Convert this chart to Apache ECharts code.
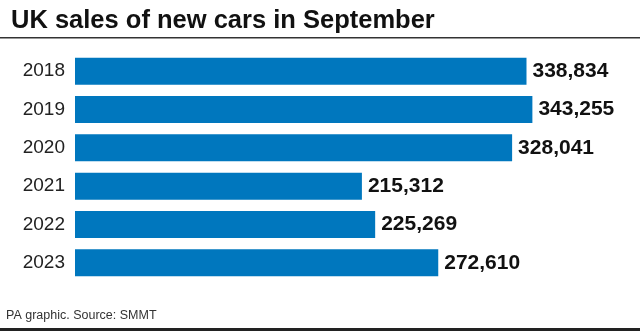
<!DOCTYPE html>
<html><head><meta charset="utf-8">
<script src="https://cdn.jsdelivr.net/npm/echarts@6/dist/echarts.min.js"></script>
<style>html,body{margin:0;padding:0;background:#fff}#c{width:640px;height:331px}</style>
</head><body><div id="c"></div>
<script>
const years = ['2018','2019','2020','2021','2022','2023'];
const sales = [338834, 343255, 328041, 215312, 225269, 272610];
const titleText = 'UK sales of new cars in September';
const sourceText = 'PA graphic. Source: SMMT';

const chart = echarts.init(document.getElementById('c'));
chart.setOption({
  animation: false,
  backgroundColor: '#fff',
  title: {
    text: titleText, left: 6, top: 3,
    textStyle: {fontFamily: 'Liberation Sans, Arial, sans-serif', fontSize: 25.5, fontWeight: 'bold', color: '#111'}
  },
  grid: {left: 75, right: 32, top: 52, bottom: 49, containLabel: false},
  xAxis: {type: 'value', min: 0, max: 400000, show: false},
  yAxis: {
    type: 'category', data: years, inverse: true,
    axisLine: {show: false}, axisTick: {show: false},
    axisLabel: {fontFamily: 'Liberation Sans, Arial, sans-serif', fontSize: 19, color: '#222', margin: 10}
  },
  series: [{
    type: 'bar', data: sales, barWidth: 27,
    itemStyle: {color: '#0077be'},
    label: {
      show: true, position: 'right', distance: 6,
      fontFamily: 'Liberation Sans, Arial, sans-serif', fontSize: 21, fontWeight: 'bold', color: '#111',
      formatter: p => p.value.toLocaleString('en-GB')
    }
  }],
  graphic: [
    {type: 'rect', shape: {x: 0, y: 37, width: 640, height: 1.5}, style: {fill: '#333'}},
    {type: 'rect', shape: {x: 0, y: 328, width: 640, height: 3}, style: {fill: '#222'}},
    {type: 'text', left: 6, top: 309, style: {text: sourceText, fontFamily: 'Liberation Sans, Arial, sans-serif', fontSize: 12.5, fill: '#333'}}
  ]
});
</script></body></html>
